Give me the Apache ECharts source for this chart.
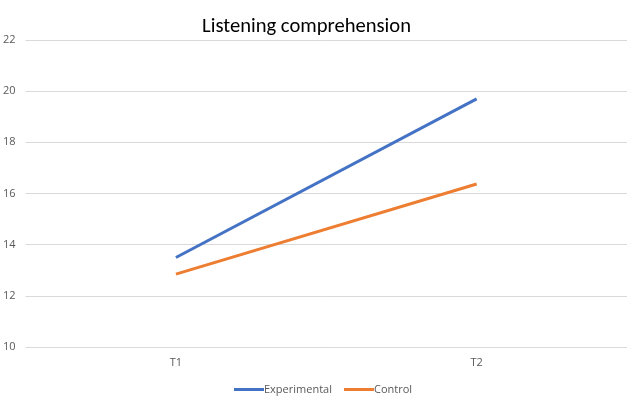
<!DOCTYPE html>
<html>
<head>
<meta charset="utf-8">
<script src="https://cdn.jsdelivr.net/npm/echarts@6/dist/echarts.min.js"></script>
<style>
html, body { margin: 0; padding: 0; background: #fff; }
#chart { width: 627px; height: 398px; }
</style>
</head>
<body>
<div id="chart"></div>
<script>
// data
var categories = ['T1', 'T2'];
var experimental = [13.5, 19.7];
var control = [12.85, 16.37];
var yTicks = [10, 12, 14, 16, 18, 20, 22];

var labelFont = 'Open Sans, Noto Sans, sans-serif';

var myChart = echarts.init(document.getElementById('chart'));
var option = {
    animation: false,
    color: ['#4472C4', '#ED7D31'],
    title: {
        text: 'Listening comprehension',
        left: 197,
        top: 11,
        textStyle: {
            fontFamily: 'Carlito, Liberation Sans, sans-serif',
            fontSize: 20.6,
            fontWeight: 'normal',
            color: '#000'
        }
    },
    legend: {
        data: ['Experimental', 'Control'],
        bottom: -2,
        left: 229,
        icon: 'rect',
        itemWidth: 30,
        itemHeight: 3,
        itemGap: 12,
        textStyle: {
            fontFamily: labelFont,
            fontSize: 11,
            color: '#595959',
            padding: [0, 0, 0, -5]
        }
    },
    grid: {
        left: 25,
        right: 0,
        top: 40,
        bottom: 51
    },
    xAxis: {
        type: 'category',
        data: categories,
        boundaryGap: true,
        axisLine: { show: false },
        axisTick: { show: false },
        axisLabel: {
            fontFamily: labelFont,
            fontSize: 11,
            color: '#595959',
            margin: 10
        }
    },
    yAxis: {
        type: 'value',
        min: yTicks[0],
        max: yTicks[yTicks.length - 1],
        interval: 2,
        axisLine: { show: false },
        axisTick: { show: false },
        axisLabel: {
            fontFamily: labelFont,
            fontSize: 11,
            color: '#595959',
            margin: 10
        },
        splitLine: { lineStyle: { color: '#D9D9D9', width: 1 } }
    },
    series: [
        {
            name: 'Experimental',
            type: 'line',
            data: experimental,
            symbol: 'none',
            lineStyle: { width: 3 }
        },
        {
            name: 'Control',
            type: 'line',
            data: control,
            symbol: 'none',
            lineStyle: { width: 3 }
        }
    ]
};
myChart.setOption(option);
</script>
</body>
</html>
